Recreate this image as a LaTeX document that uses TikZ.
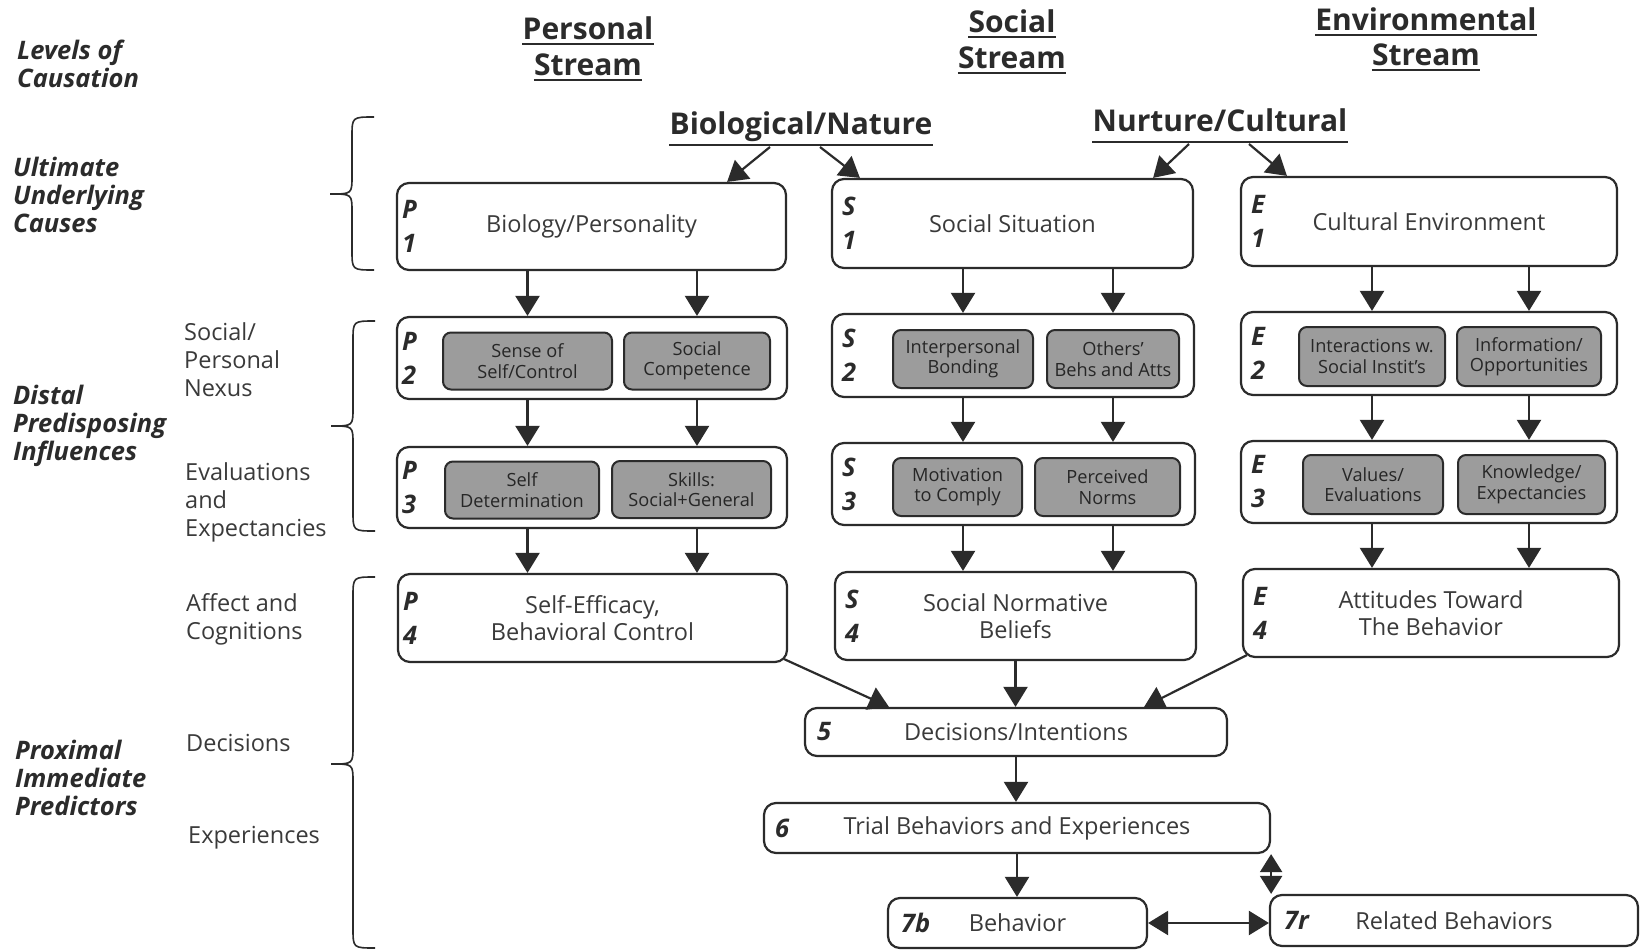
\documentclass[tikz,border=0pt]{standalone}
\usepackage{fontspec}
\setmainfont{Open Sans}
\usetikzlibrary{arrows.meta,calc}
\definecolor{ink}{HTML}{2B2B2B}
\definecolor{txt}{HTML}{3A3A3A}
\definecolor{graybox}{HTML}{9C9C9C}
\newcommand\fsz[2]{\fontsize{#1}{#2}\selectfont}
\begin{document}
\begin{tikzpicture}[x=1pt,y=-1pt,
  sz/.style 2 args={minimum width=#1, minimum height=#2},
  box/.style={draw=ink, line width=2.2pt, rounded corners=12pt, fill=white, align=center, text=txt, font=\fsz{23.5}{27}, inner sep=0pt},
  gbox/.style={draw=ink, line width=2pt, rounded corners=8pt, fill=graybox, align=center, text=black!85, font=\fsz{18.2}{20.5}, inner sep=0pt},
  tag/.style={font=\fsz{25.5}{34}\bfseries\itshape, text=ink, align=left, anchor=west, inner sep=0pt},
  lvl/.style={font=\fsz{25.5}{28}\bfseries\itshape, text=ink, align=left, anchor=west, inner sep=0pt},
  sub/.style={font=\fsz{23.5}{28}, text=txt, align=left, anchor=west, inner sep=0pt},
  hdr/.style={font=\fsz{30}{34}\bfseries, text=ink, anchor=base, inner sep=0pt},
  arr/.style={draw=ink, line width=2.2pt, -{Triangle[width=24pt,length=20pt]}},
  darr/.style={draw=ink, line width=2.2pt, {Triangle[width=24pt,length=20pt]}-{Triangle[width=24pt,length=20pt]}},
  sdarr/.style={draw=ink, line width=2.2pt, {Triangle[width=22pt,length=18pt]}-{Triangle[width=22pt,length=18pt]}},
  uline/.style={draw=ink, line width=2pt},
  brc/.style={draw=ink, line width=1.6pt},
]
\useasboundingbox (0,0) rectangle (1642,950);
\fill[white] (0,0) rectangle (1642,950);

% headers
\node[hdr] (h1a) at (588,39.5) {Personal};
\node[hdr] (h1b) at (588,75.5) {Stream};
\node[hdr] (h2a) at (1012,32.5) {Social};
\node[hdr] (h2b) at (1012,68.5) {Stream};
\node[hdr] (h3a) at (1426,30.5) {Environmental};
\node[hdr] (h3b) at (1426,65.5) {Stream};
\foreach \h in {h1a,h1b,h2a,h2b,h3a,h3b}
  \draw[uline] ([yshift=-5pt]\h.base west) -- ([yshift=-5pt]\h.base east);
\node[hdr] (bn) at (801,134.5) {Biological/Nature};
\node[hdr] (nc) at (1220,131.5) {Nurture/Cultural};
\draw[uline] ([yshift=-10.5pt]bn.base west) -- ([yshift=-10.5pt]bn.base east);
\draw[uline] ([yshift=-10.5pt]nc.base west) -- ([yshift=-10.5pt]nc.base east);

% left labels
\node[lvl] (lv) at (17,63.5) {Levels of\\Causation};
\node[lvl] (ult) at (13,195) {Ultimate\\Underlying\\Causes};
\node[lvl] (dis) at (13,426) {Distal\\Predisposing\\Influences};
\node[lvl] (prx) at (15,778) {Proximal\\Immediate\\Predictors};
\node[sub] (nx) at (184,360) {Social/\\Personal\\Nexus};
\node[sub] (ev) at (185,502.5) {Evaluations\\and\\Expectancies};
\node[sub] (ac) at (186,619.5) {Affect and\\Cognitions};
\node[sub] (dc) at (186,743) {Decisions};
\node[sub] (ex) at (188,838) {Experiences};

% braces (ends at x=374, stem at x=352, tip at x=330)
\draw[brc] (374,117) .. controls (352,117) .. (352,137) -- (352,176)
  .. controls (352,194) .. (330,194) .. controls (352,194) .. (352,212)
  -- (352,250) .. controls (352,270) .. (374,270);
\draw[brc] (375,321) .. controls (353,321) .. (353,341) -- (353,408)
  .. controls (353,426) .. (331,426) .. controls (353,426) .. (353,444)
  -- (353,511) .. controls (353,531) .. (375,531);
\draw[brc] (375,577) .. controls (353,577) .. (353,597) -- (353,746)
  .. controls (353,764) .. (331,764) .. controls (353,764) .. (353,782)
  -- (353,928) .. controls (353,948) .. (375,948);

% personal stream
\node[box, sz={389pt}{87pt}] (P1) at (591.5,226.5) {Biology/Personality};
\node[box, sz={390pt}{82pt}] (P2) at (592,358) {};
\node[box, sz={390pt}{81pt}] (P3) at (592,487.5) {};
\node[box, sz={389pt}{88pt}] (P4) at (592.5,618) {Self-Efficacy,\\Behavioral Control};
\node[gbox, sz={169pt}{57pt}] (P2a) at (527.5,361) {Sense of\\Self/Control};
\node[gbox, sz={146pt}{57pt}] (P2b) at (697,361) {Social\\Competence};
\node[gbox, sz={154pt}{57pt}] (P3a) at (522,490) {Self\\Determination};
\node[gbox, sz={159pt}{57pt}] (P3b) at (691.5,489.5) {Skills:\\Social+General};
\node[tag] (P1l) at ([xshift=6pt]P1.west) {P\\1};
\node[tag] (P2l) at ([xshift=6pt]P2.west) {P\\2};
\node[tag] (P3l) at ([xshift=6pt]P3.west) {P\\3};
\node[tag] (P4l) at ([xshift=6pt]P4.west) {P\\4};

% social stream
\node[box, sz={361pt}{89pt}] (S1) at (1012.5,223.5) {Social Situation};
\node[box, sz={362pt}{83pt}] (S2) at (1013,355.5) {};
\node[box, sz={363pt}{82pt}] (S3) at (1013.5,484) {};
\node[box, sz={361pt}{88pt}] (S4) at (1015.5,616) {Social Normative\\Beliefs};
\node[gbox, sz={140pt}{58pt}] (S2a) at (963,359) {Interpersonal\\Bonding};
\node[gbox, sz={132pt}{58pt}] (S2b) at (1113,359) {Others'\\Behs and Atts};
\node[gbox, sz={129pt}{58pt}] (S3a) at (957.5,487) {Motivation\\to Comply};
\node[gbox, sz={145pt}{58pt}] (S3b) at (1107.5,487) {Perceived\\Norms};
\node[tag] (S1l) at ([xshift=11pt]S1.west) {S\\1};
\node[tag] (S2l) at ([xshift=11pt]S2.west) {S\\2};
\node[tag] (S3l) at ([xshift=11pt]S3.west) {S\\3};
\node[tag] (S4l) at ([xshift=11pt]S4.west) {S\\4};

% environmental stream
\node[box, sz={376pt}{89pt}] (E1) at (1429,221.5) {Cultural Environment};
\node[box, sz={376pt}{83pt}] (E2) at (1429,353.5) {};
\node[box, sz={376pt}{82pt}] (E3) at (1429,482) {};
\node[box, sz={376pt}{88pt}] (E4) at (1431,613) {Attitudes Toward\\The Behavior};
\node[gbox, sz={146pt}{59pt}] (E2a) at (1372,356.5) {Interactions w.\\Social Instit's};
\node[gbox, sz={144pt}{59pt}] (E2b) at (1529,356.5) {Information/\\Opportunities};
\node[gbox, sz={140pt}{59pt}] (E3a) at (1373,484.5) {Values/\\Evaluations};
\node[gbox, sz={147pt}{59pt}] (E3b) at (1531.5,484.5) {Knowledge/\\Expectancies};
\node[tag] (E1l) at ([xshift=11pt]E1.west) {E\\1};
\node[tag] (E2l) at ([xshift=11pt]E2.west) {E\\2};
\node[tag] (E3l) at ([xshift=11pt]E3.west) {E\\3};
\node[tag] (E4l) at ([xshift=11pt]E4.west) {E\\4};

% proximal boxes
\node[box, sz={422pt}{48pt}] (D5) at (1016,732) {Decisions/Intentions};
\node[box, sz={506pt}{50pt}] (D6) at (1017,828) {Trial Behaviors and Experiences};
\node[box, sz={259pt}{50pt}] (B7) at (1017.5,923) {Behavior};
\node[box, sz={368pt}{51pt}] (R7) at (1454,920.5) {Related Behaviors};
\node[tag] (D5l) at ([xshift=13pt]D5.west) {5};
\node[tag] (D6l) at ([xshift=12pt]D6.west) {6};
\node[tag] (B7l) at ([xshift=14pt]B7.west) {7\textit{b}};
\node[tag] (R7l) at ([xshift=15pt]R7.west) {7\textit{r}};

% top arrows
\coordinate (bn1) at (770,147);
\coordinate (bn2) at (820,147);
\coordinate (nc1) at (1189,144);
\coordinate (nc2) at (1249,144);
\draw[arr] (bn1) -- ([xshift=-60pt]P1.north east);
\draw[arr] (bn2) -- ([xshift=29pt]S1.north west);
\draw[arr] (nc1) -- ([xshift=-41pt]S1.north east);
\draw[arr] (nc2) -- ([xshift=47pt]E1.north west);

% stream arrows
\foreach \a/\b/\c/\l/\r in {P1/P2/P3/P2a/P2b, S1/S2/S3/S2a/S2b, E1/E2/E3/E2a/E2b}{
  \draw[arr] (\a.south -| \l) -- (\b.north -| \l);
  \draw[arr] (\a.south -| \r) -- (\b.north -| \r);
  \draw[arr] (\b.south -| \l) -- (\c.north -| \l);
  \draw[arr] (\b.south -| \r) -- (\c.north -| \r);
}
\draw[arr] (P3.south -| P2a) -- (P4.north -| P2a);
\draw[arr] (P3.south -| P2b) -- (P4.north -| P2b);
\draw[arr] (S3.south -| S2a) -- (S4.north -| S2a);
\draw[arr] (S3.south -| S2b) -- (S4.north -| S2b);
\draw[arr] (E3.south -| E2a) -- (E4.north -| E2a);
\draw[arr] (E3.south -| E2b) -- (E4.north -| E2b);

% proximal arrows
\draw[arr] ([xshift=-4pt,yshift=4pt]P4.south east) -- ([xshift=85pt]D5.north west);
\draw[arr] (S4.south) -- (S4.south |- D5.north);
\draw[arr] ([xshift=5pt,yshift=3pt]E4.south west) -- ([xshift=-84pt]D5.north east);
\draw[arr] (D5.south) -- (D5.south |- D6.north);
\draw[arr] (D6.south) -- (D6.south |- B7.north);
\draw[sdarr] (D6.south east) -- (D6.south east |- R7.north west);
\draw[darr] (B7.east) -- (B7.east -| R7.west);
\end{tikzpicture}
\end{document}
